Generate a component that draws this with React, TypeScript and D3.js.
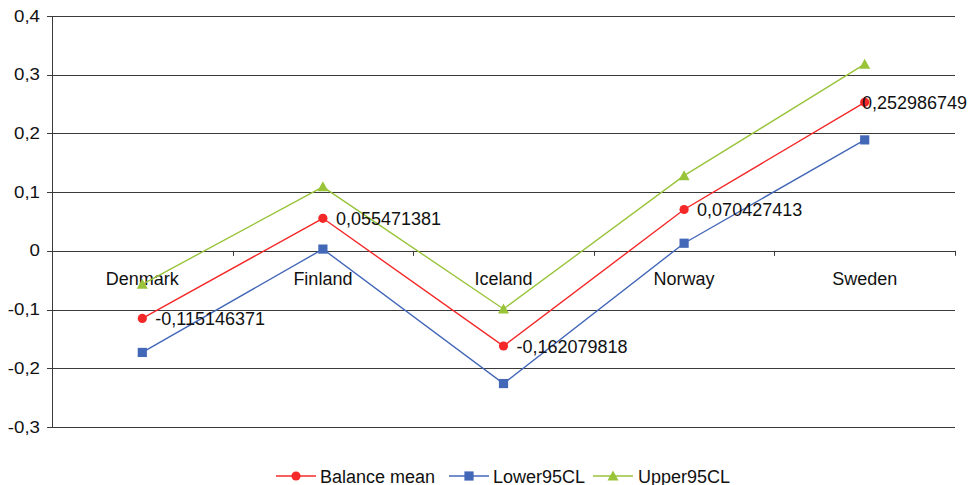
import React from "react";
import * as d3 from "d3";

const categories = ["Denmark", "Finland", "Iceland", "Norway", "Sweden"];
const balanceMean = [-0.115146371, 0.055471381, -0.162079818, 0.070427413, 0.252986749];
const lower95CL = [-0.173, 0.003, -0.226, 0.013, 0.189];
const upper95CL = [-0.057, 0.109, -0.099, 0.128, 0.318];
const yTicks = [-0.3, -0.2, -0.1, 0, 0.1, 0.2, 0.3, 0.4];
const seriesNames = ["Balance mean", "Lower95CL", "Upper95CL"];

const W = 972;
const H = 485;
const COLORS = ["#F42828", "#4468B8", "#99C43A"];
const FONT = "'Liberation Sans', Arial, sans-serif";

function Marker({ kind, x, y, color }: { kind: number; x: number; y: number; color: string }) {
  if (kind === 0) return <circle cx={x} cy={y} r={4.6} fill={color} />;
  if (kind === 1) return <rect x={x - 4.6} y={y - 4.6} width={9.2} height={9.2} fill={color} />;
  return <path d={`M${x},${y - 5.5} L${x + 5.5},${y + 4.5} L${x - 5.5},${y + 4.5} Z`} fill={color} />;
}

const fmt = (v: number) => String(v).replace(".", ",");

export default function App() {
  const x = d3.scaleBand<string>().domain(categories).range([52, 955]);
  const y = d3.scaleLinear().domain([-0.3, 0.4]).range([427, 16]);
  const cx = (c: string) => (x(c) as number) + x.bandwidth() / 2;
  const series = [balanceMean, lower95CL, upper95CL];
  const line = d3
    .line<number>()
    .x((_, i) => cx(categories[i]))
    .y((d) => y(d));

  const legendItems = [
    { lx: 276, tx: 320 },
    { lx: 449, tx: 493 },
    { lx: 593, tx: 638 },
  ];

  return (
    <svg
      width={W}
      height={H}
      style={{ position: "absolute", left: 0, top: 0, background: "#fff" }}
      fontFamily={FONT}
    >
      {/* gridlines */}
      {yTicks.map((t) => (
        <g key={t}>
          <line x1={47} x2={955} y1={Math.round(y(t)) + 0.5} y2={Math.round(y(t)) + 0.5} stroke="#3a3a3a" strokeWidth={1} />
          <text
            transform={`translate(40,${y(t) + 5.5}) scale(1.17,1)`}
            textAnchor="end"
            fontSize={16}
            fill="#111"
          >
            {fmt(t)}
          </text>
        </g>
      ))}
      {/* y axis */}
      <line x1={52.5} x2={52.5} y1={y(0.4)} y2={y(-0.3)} stroke="#3a3a3a" strokeWidth={1} />
      {/* category boundary ticks on zero axis */}
      {categories.map((c, i) => {
        const bx = (x(c) as number) + x.bandwidth();
        return (
          <line key={i} x1={Math.round(bx) + 0.5} x2={Math.round(bx) + 0.5} y1={y(0)} y2={y(0) + 5} stroke="#3a3a3a" />
        );
      })}
      {/* category labels */}
      {categories.map((c) => (
        <text key={c} x={cx(c)} y={285} textAnchor="middle" fontSize={18} fill="#111">
          {c}
        </text>
      ))}
      {/* series */}
      {series.map((s, si) => (
        <g key={si}>
          <path d={line(s) || ""} fill="none" stroke={COLORS[si]} strokeWidth={1.4} />
          {s.map((v, i) => (
            <Marker key={i} kind={si} x={cx(categories[i])} y={y(v)} color={COLORS[si]} />
          ))}
        </g>
      ))}
      {/* data labels */}
      {balanceMean.map((v, i) => {
        const px = cx(categories[i]);
        const last = i === categories.length - 1;
        return (
          <text
            key={i}
            x={last ? 967 : px + 13}
            y={y(v) + 6.5}
            textAnchor={last ? "end" : "start"}
            fontSize={18}
            fill="#111"
          >
            {fmt(v)}
          </text>
        );
      })}
      {/* legend */}
      {seriesNames.map((n, i) => (
        <g key={n}>
          <line x1={legendItems[i].lx} x2={legendItems[i].lx + 40} y1={476} y2={476} stroke={COLORS[i]} strokeWidth={1.4} />
          <Marker kind={i} x={legendItems[i].lx + 20} y={476} color={COLORS[i]} />
          <text x={legendItems[i].tx} y={482.5} fontSize={18} fill="#111">
            {n}
          </text>
        </g>
      ))}
    </svg>
  );
}
